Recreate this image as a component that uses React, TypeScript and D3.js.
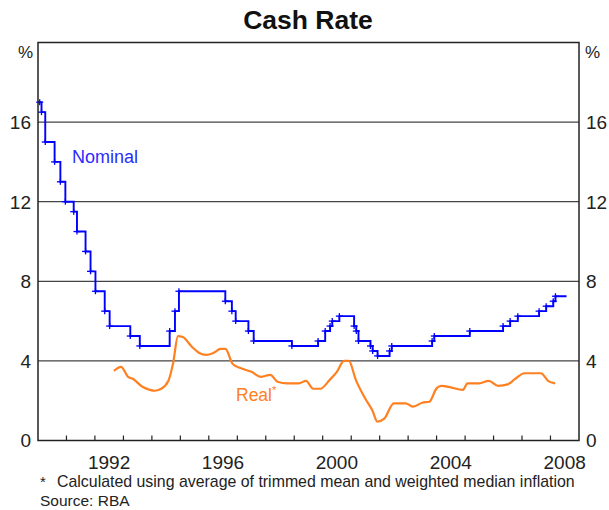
import React from 'react';
import * as d3 from 'd3';

// RBA cash rate target changes (nominal), % 
const nominalDates = [
  '1990-01-01', '1990-01-23', '1990-02-15', '1990-04-04', '1990-08-02', '1990-10-15', '1990-12-18',
  '1991-04-04', '1991-05-16', '1991-09-03', '1991-11-06', '1992-01-08', '1992-05-06', '1992-07-08',
  '1993-03-30', '1993-07-30', '1994-08-17', '1994-10-24', '1994-12-14', '1996-07-31', '1996-10-23',
  '1996-12-11', '1997-05-23', '1997-07-30', '1998-12-02', '1999-11-03', '2000-02-02', '2000-04-05',
  '2000-05-03', '2000-08-02', '2001-02-07', '2001-03-07', '2001-04-04', '2001-09-05', '2001-10-03',
  '2001-12-05', '2002-05-08', '2002-06-05', '2003-11-05', '2003-12-03', '2005-03-02', '2006-05-03',
  '2006-08-02', '2006-11-08', '2007-08-08', '2007-11-07', '2008-02-06', '2008-03-05',
];
const nominalValues = [
  17.0, 17.0, 16.5, 15.0, 14.0, 13.0, 12.0,
  11.5, 10.5, 9.5, 8.5, 7.5, 6.5, 5.75,
  5.25, 4.75, 5.5, 6.5, 7.5, 7.0, 6.5,
  6.0, 5.5, 5.0, 4.75, 5.0, 5.5, 5.75,
  6.0, 6.25, 5.75, 5.5, 5.0, 4.75, 4.5,
  4.25, 4.5, 4.75, 5.0, 5.25, 5.5, 5.75,
  6.0, 6.25, 6.5, 6.75, 7.0, 7.25,
];
const nominalEnd = '2008-07-25';

// real cash rate*, %
const realDates = [
  '1992-09', '1992-12', '1993-03', '1993-05', '1993-09', '1993-12', '1994-02', '1994-05', '1994-08',
  '1994-10', '1994-12', '1995-02', '1995-06', '1995-09', '1995-12', '1996-03', '1996-06', '1996-08',
  '1996-11', '1997-02', '1997-07', '1997-11', '1998-03', '1998-06', '1998-10', '1999-03', '1999-06',
  '1999-09', '1999-12', '2000-04', '2000-07', '2000-10', '2000-12', '2001-03', '2001-07', '2001-10',
  '2001-12', '2002-03', '2002-07', '2002-12', '2003-03', '2003-07', '2003-10', '2004-01', '2004-03',
  '2004-07', '2004-12', '2005-02', '2005-07', '2005-11', '2006-03', '2006-07', '2006-10', '2007-02',
  '2007-06', '2007-09', '2007-12', '2008-03',
];
const realValues = [
  3.5, 3.7, 3.2, 3.1, 2.7, 2.55, 2.5, 2.6, 3.0,
  3.9, 5.25, 5.2, 4.7, 4.4, 4.3, 4.4, 4.6, 4.6,
  3.85, 3.65, 3.45, 3.2, 3.3, 2.95, 2.87, 2.87, 3.0,
  2.6, 2.6, 3.05, 3.45, 4.0, 4.0, 3.05, 2.1, 1.5,
  0.95, 1.1, 1.87, 1.87, 1.7, 1.9, 1.95, 2.62, 2.74,
  2.67, 2.54, 2.87, 2.87, 3.0, 2.75, 2.82, 3.08, 3.38,
  3.38, 3.38, 3.0, 2.87,
];

const yTicks = [0, 4, 8, 12, 16];
const xLabels = [1992, 1996, 2000, 2004, 2008];

const width = 609;
const height = 510;
const margin = { top: 42.5, right: 30, bottom: 69.5, left: 38 };
const font = 'Liberation Sans, Arial, sans-serif';
const BLUE = '#0000ff';
const ORANGE = '#ff8021';

export default function App() {
  const x = d3
    .scaleTime()
    .domain([new Date(1990, 0, 1), new Date(2009, 0, 1)])
    .range([margin.left, width - margin.right]);
  const y = d3
    .scaleLinear()
    .domain([0, 20])
    .range([height - margin.bottom, margin.top]);

  const parseDay = d3.timeParse('%Y-%m-%d');
  const parseMonth = d3.timeParse('%Y-%m');

  const nominal = nominalDates.map((d, i) => ({ date: parseDay(d) as Date, value: nominalValues[i] }));
  const nominalPath = [...nominal, { date: parseDay(nominalEnd) as Date, value: nominalValues[nominalValues.length - 1] }];
  const real = realDates.map((d, i) => ({ date: parseMonth(d) as Date, value: realValues[i] }));

  const stepLine = d3
    .line<{ date: Date; value: number }>()
    .x((d) => x(d.date))
    .y((d) => y(d.value))
    .curve(d3.curveStepAfter);
  const smoothLine = d3
    .line<{ date: Date; value: number }>()
    .x((d) => x(d.date))
    .y((d) => y(d.value))
    .curve(d3.curveMonotoneX);

  const x0 = margin.left;
  const x1 = width - margin.right;
  const y0 = height - margin.bottom;
  const y1 = margin.top;
  const yearTicks = d3.range(1991, 2009).map((yr) => new Date(yr, 0, 1));

  return (
    <svg
      width={width}
      height={height}
      style={{ position: 'absolute', left: 0, top: 0, background: '#fff' }}
      fontFamily={font}
    >
      <text x={308} y={29} textAnchor="middle" fontSize={26.5} fontWeight="bold" fill="#111">
        Cash Rate
      </text>

      {/* gridlines */}
      {yTicks.filter((t) => t > 0).map((t) => (
        <line key={t} x1={x0} x2={x1} y1={y(t)} y2={y(t)} stroke="#444" strokeWidth={1.2} />
      ))}

      {/* y labels both sides */}
      {yTicks.map((t) => (
        <g key={t} fontSize={19} fill="#222">
          <text x={31} y={y(t)} dy="0.36em" textAnchor="end">{t}</text>
          <text x={586} y={y(t)} dy="0.36em" textAnchor="start">{t}</text>
        </g>
      ))}
      <text x={33} y={58} textAnchor="end" fontSize={17} fill="#222">%</text>
      <text x={585} y={58} textAnchor="start" fontSize={17} fill="#222">%</text>

      {/* year ticks */}
      {yearTicks.map((d, i) => (
        <line key={i} x1={x(d)} x2={x(d)} y1={y0} y2={y0 - 5} stroke="#222" strokeWidth={1.2} />
      ))}
      {xLabels.map((yr) => (
        <text key={yr} x={x(new Date(yr, 6, 1))} y={469} textAnchor="middle" fontSize={19} fill="#222">
          {yr}
        </text>
      ))}

      {/* series */}
      <path d={smoothLine(real) ?? ''} fill="none" stroke={ORANGE} strokeWidth={2.2} strokeLinejoin="round" />
      <path d={stepLine(nominalPath) ?? ''} fill="none" stroke={BLUE} strokeWidth={1.9} />
      {nominal.slice(1).map((d, i) => (
        <g key={i} stroke={BLUE} strokeWidth={1.3}>
          <line x1={x(d.date) - 3.5} x2={x(d.date) + 3.5} y1={y(d.value)} y2={y(d.value)} />
          <line x1={x(d.date)} x2={x(d.date)} y1={y(d.value) - 3} y2={y(d.value) + 3} />
        </g>
      ))}

      <text x={72} y={163} fontSize={18} fill="#2b2bff">Nominal</text>
      <text x={236} y={401} fontSize={17.5} fill={ORANGE}>
        Real<tspan fontSize={11} dy={-7}>*</tspan>
      </text>

      {/* frame */}
      <rect x={x0} y={y1} width={x1 - x0} height={y0 - y1} fill="none" stroke="#222" strokeWidth={1.5} />

      <text x={40} y={487} fontSize={15} fill="#222">
        *
        <tspan x={57} fontSize={15.9}>Calculated using average of trimmed mean and weighted median inflation</tspan>
      </text>
      <text x={40} y={506} fontSize={15.5} fill="#222">Source: RBA</text>
    </svg>
  );
}
